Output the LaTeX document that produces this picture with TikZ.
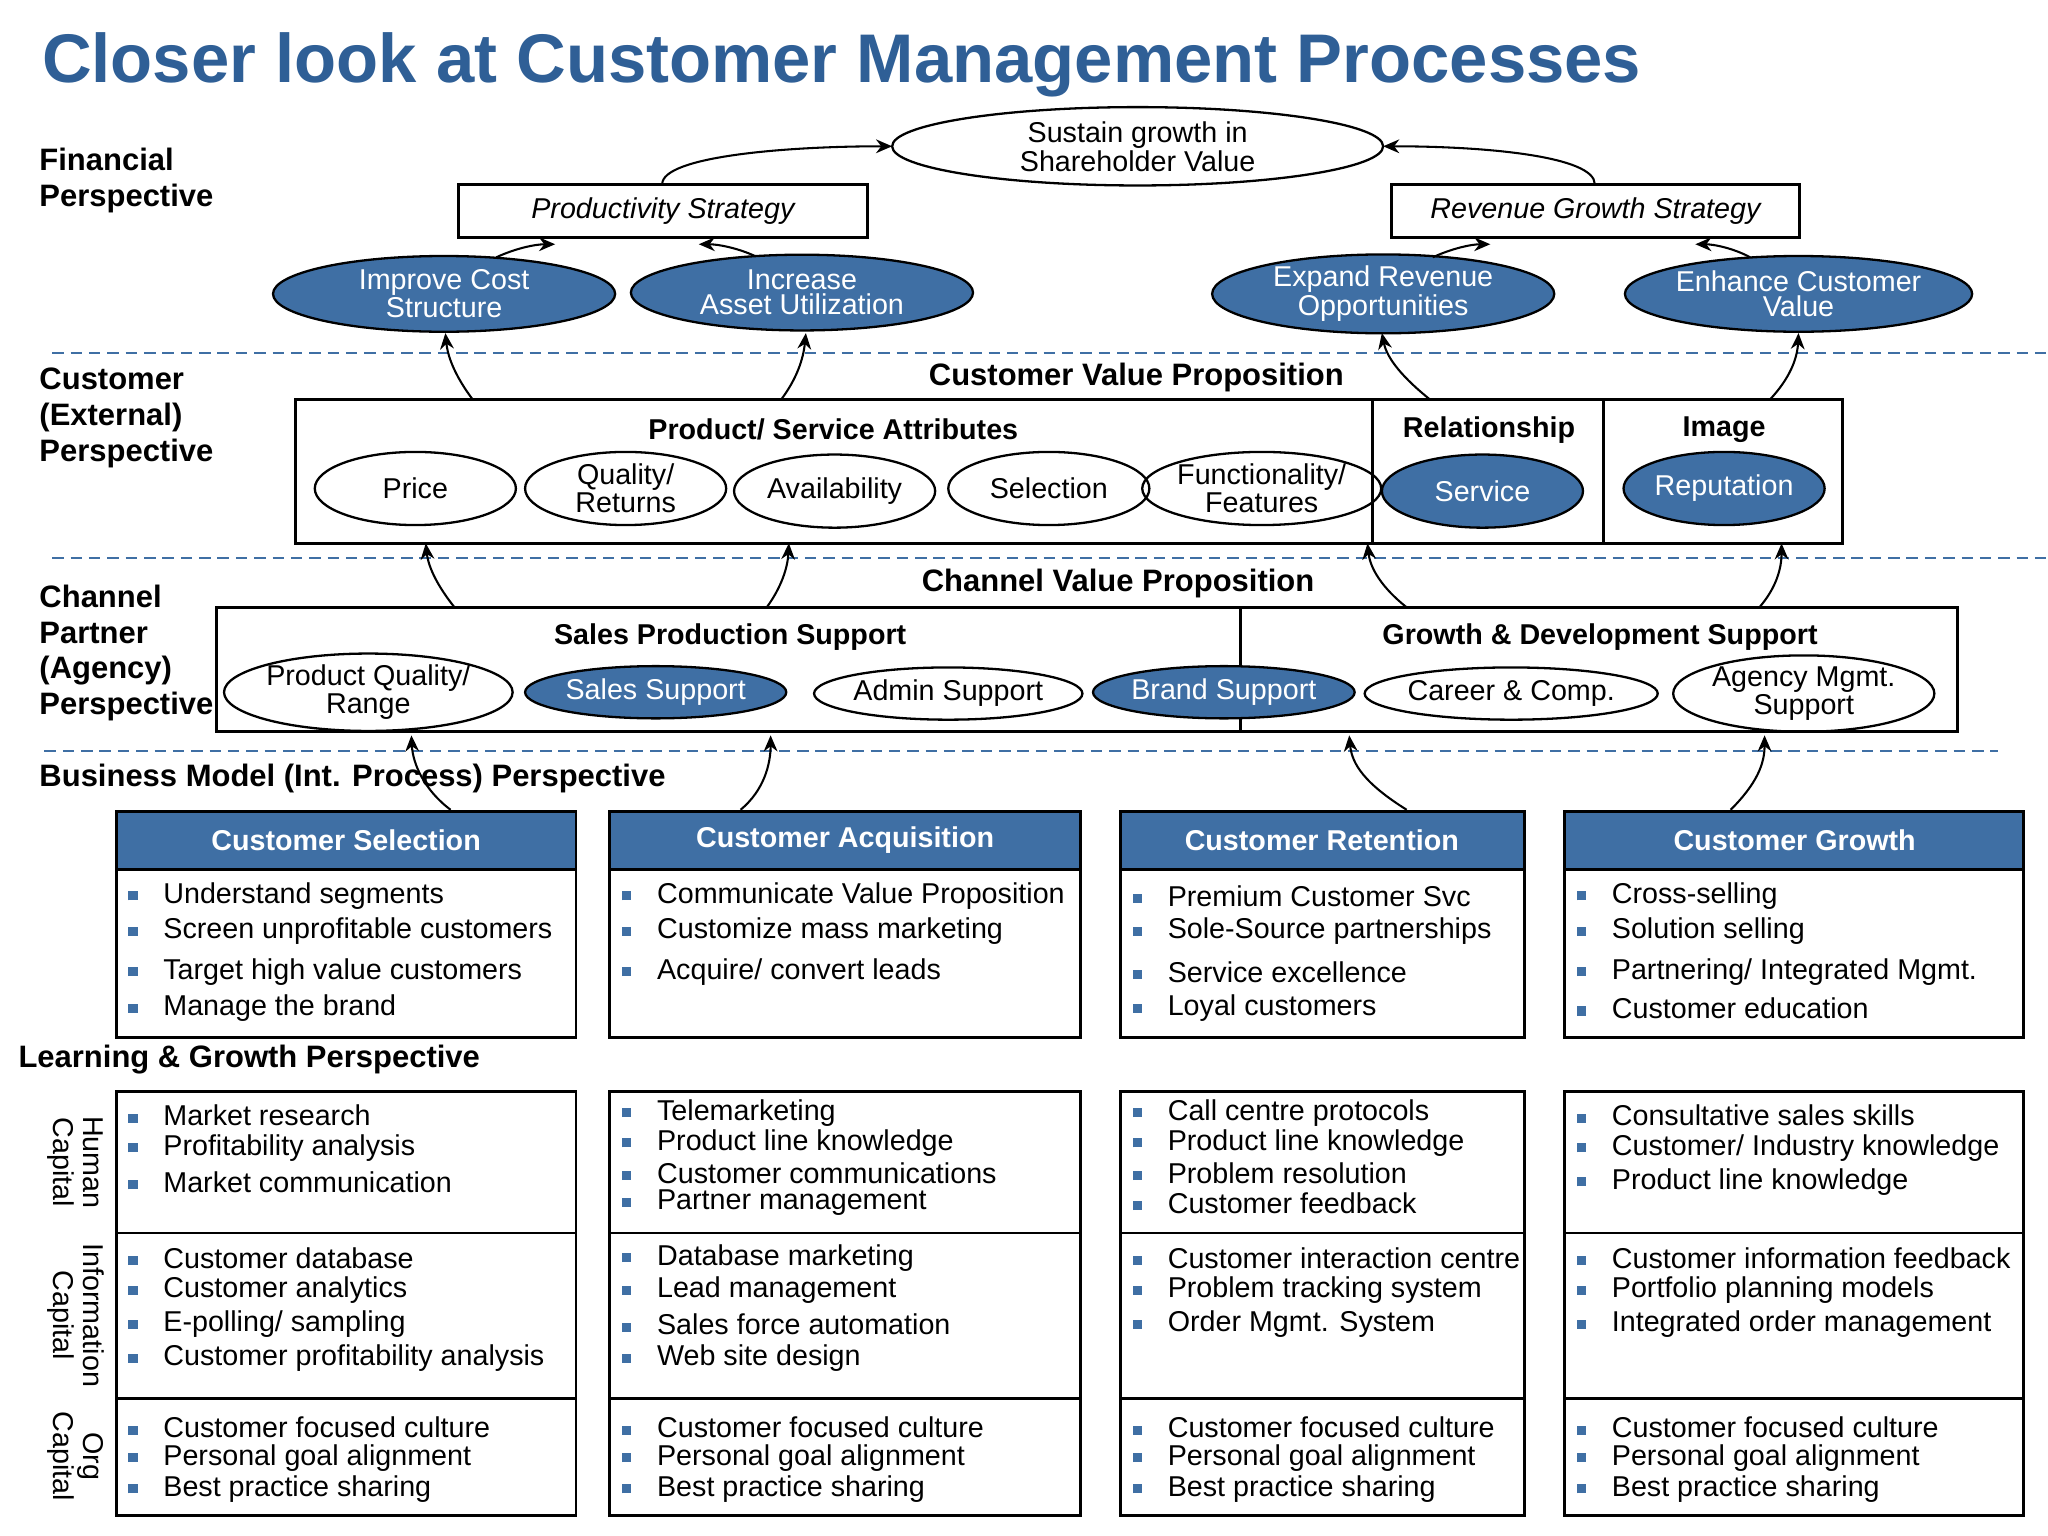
\documentclass[tikz,border=0pt]{standalone}
\usepackage{fontspec}
\setmainfont{Liberation Sans}
\usetikzlibrary{shapes.geometric,arrows.meta}
\definecolor{cblue}{HTML}{3F6FA4}
\definecolor{tblue}{HTML}{2F5F96}
\newcommand\mybul{\textcolor{cblue}{\rule[0.2ex]{0.6ex}{0.6ex}}\hspace{0.9em}}
\tikzset{
 box/.style={draw=black,line width=1.3pt},
 el/.style={ellipse,draw=black,line width=1pt,inner sep=0pt,align=center,font=\fontsize{12.5}{11}\selectfont},
 bel/.style={el,fill=cblue,text=white},
 lbl/.style={anchor=west,align=left,font=\fontsize{13.5}{15.5}\selectfont\bfseries},
 hd/.style={font=\fontsize{12.5}{14}\selectfont\bfseries},
 itm/.style={anchor=west,inner sep=0pt,font=\fontsize{12.5}{14}\selectfont},
 ar/.style={-{Stealth[length=7pt,width=6pt]},line width=0.9pt},
 dsh/.style={cblue,line width=0.8pt,dash pattern=on 5pt off 3pt}
}
\begin{document}
\begin{tikzpicture}[x=0.02cm,y=-0.02cm]
\useasboundingbox (0,0) rectangle (1568,1176);
\node[anchor=west,text=tblue,font=\fontsize{30}{32}\selectfont\bfseries] (title) at (26,50) {Closer look at Customer Management Processes};
% Financial
\node[lbl] (fp) at (24,138) {Financial\\Perspective};
\node[el,minimum width=7.52cm,minimum height=1.2cm] (sg) at (871,112) {Sustain growth in\\Shareholder Value};
\node[box,minimum width=6.26cm,minimum height=0.82cm,font=\fontsize{12.5}{14}\selectfont\itshape] (ps) at (507.5,161.5) {Productivity Strategy};
\node[box,minimum width=6.26cm,minimum height=0.82cm,font=\fontsize{12.5}{14}\selectfont\itshape] (rs) at (1221.5,161.5) {Revenue Growth Strategy};
\node[bel,minimum width=5.24cm,minimum height=1.16cm] (ic) at (340,225) {Improve Cost\\Structure};
\node[bel,minimum width=5.24cm,minimum height=1.16cm] (ia) at (614,224) {Increase\\Asset Utilization};
\node[bel,minimum width=5.24cm,minimum height=1.16cm] (er) at (1059,225) {Expand Revenue\\Opportunities};
\node[bel,minimum width=5.24cm,minimum height=1.16cm] (ec) at (1377,225) {Enhance Customer\\Value};
\draw[ar] (507,141) .. controls (507,120) and (600,112) .. (683,112);
\draw[ar] (1221,141) .. controls (1221,120) and (1140,112) .. (1059,112);
\draw[ar] (380,197) .. controls (395,190) and (410,187) .. (425,187);
\draw[ar] (578,196) .. controls (565,190) and (550,187) .. (535,187);
\draw[ar] (1097,197) .. controls (1112,190) and (1127,187) .. (1141,187);
\draw[ar] (1340,197) .. controls (1327,190) and (1312,187) .. (1298,187);
\draw[dsh] (40,270) -- (1568,270);
\draw[dsh] (40,427) -- (1568,427);
\draw[dsh] (34,575) -- (1530,575);
% Customer
\node[lbl] (cp) at (24,320) {Customer\\(External)\\Perspective};
\node[font=\fontsize{13.5}{15}\selectfont\bfseries] (cvp) at (870,289) {Customer Value Proposition};
\draw[box] (226,306) rectangle (1411,416);
\draw[box] (1051,306) -- (1051,416) (1228,306) -- (1228,416);
\node[hd] (psa) at (638,329) {Product/ Service Attributes};
\node[hd] (rel) at (1140,329) {Relationship};
\node[hd] (img) at (1320,329) {Image};
\node[el,minimum width=3.08cm,minimum height=1.12cm] (pr) at (318,374) {Price};
\node[el,minimum width=3.08cm,minimum height=1.12cm] (qr) at (479,374) {Quality/\\Returns};
\node[el,minimum width=3.08cm,minimum height=1.12cm] (av) at (639,376) {Availability};
\node[el,minimum width=3.08cm,minimum height=1.12cm] (se) at (803,374) {Selection};
\node[el,minimum width=3.08cm,minimum height=1.12cm] (fu) at (966,374) {Functionality/\\Features};
\node[bel,minimum width=3.08cm,minimum height=1.12cm] (sv) at (1135,376) {Service};
\node[bel,minimum width=3.08cm,minimum height=1.12cm] (rp) at (1320,374) {Reputation};
\draw[ar] (362,306) .. controls (350,290) and (343,275) .. (341,255);
\draw[ar] (598,306) .. controls (610,290) and (615,275) .. (617,255);
\draw[ar] (1095,306) .. controls (1075,290) and (1062,275) .. (1058,255);
\draw[ar] (1355,306) .. controls (1370,290) and (1376,275) .. (1377,255);
% Channel
\node[lbl] (chp) at (24,500) {Channel\\Partner\\(Agency)\\Perspective};
\node[font=\fontsize{13.5}{15}\selectfont\bfseries] (chvp) at (856,447) {Channel Value Proposition};
\draw[box] (166,465) rectangle (1499,560);
\draw[box] (950,465) -- (950,560);
\node[hd] (sps) at (559,488) {Sales Production Support};
\node[hd] (gds) at (1225,488) {Growth \& Development Support};
\tikzset{cel/.style={el,minimum width=4cm,minimum height=0.8cm,font=\fontsize{12.5}{9.5}\selectfont}}
\node[cel] (pq) at (282,530) {Product Quality/\\Range};
\node[cel,fill=cblue,text=white] (ss) at (502,530) {Sales Support};
\node[cel] (as) at (726,531) {Admin Support};
\node[cel,fill=cblue,text=white] (bs) at (937,530) {Brand Support};
\node[cel] (cc) at (1157,531) {Career \& Comp.};
\node[cel] (am) at (1381,531) {Agency Mgmt.\\Support};
\draw[ar] (348,465) .. controls (336,450) and (328,435) .. (326,416);
\draw[ar] (587,465) .. controls (598,450) and (603,435) .. (604,416);
\draw[ar] (1077,465) .. controls (1058,450) and (1049,435) .. (1047,416);
\draw[ar] (1347,465) .. controls (1360,450) and (1364,435) .. (1364,416);
% Business model
\node[lbl] (bm) at (24,596) {Business Model (Int. Process) Perspective};
\draw[ar] (345,620) .. controls (325,605) and (316,585) .. (315,563);
\draw[ar] (567,620) .. controls (585,605) and (590,585) .. (590,563);
\draw[ar] (1077,620) .. controls (1045,600) and (1035,585) .. (1033,563);
\draw[ar] (1325,620) .. controls (1345,600) and (1351,585) .. (1351,563);
\fill[cblue] (89,621) rectangle (441,666);
\fill[cblue] (467,621) rectangle (827,666);
\fill[cblue] (858,621) rectangle (1167,666);
\fill[cblue] (1198,621) rectangle (1549,666);
\foreach \xa/\xb in {89/441,467/827,858/1167,1198/1549}{
 \draw[box] (\xa,621) rectangle (\xb,794);
 \draw[box] (\xa,666) -- (\xb,666);
 \draw[box] (\xa,836) rectangle (\xb,1160);
 \draw[box] (\xa,944) -- (\xb,944) (\xa,1071) -- (\xb,1071);
}
\node[text=white,font=\fontsize{12.5}{14}\selectfont\bfseries] (ph1) at (265,643) {Customer Selection};
\node[text=white,font=\fontsize{12.5}{14}\selectfont\bfseries] (ph2) at (647,643) {Customer Acquisition};
\node[text=white,font=\fontsize{12.5}{14}\selectfont\bfseries] (ph3) at (1012,643) {Customer Retention};
\node[text=white,font=\fontsize{12.5}{14}\selectfont\bfseries] (ph4) at (1374,643) {Customer Growth};
\foreach \yy/\txt in {686/Understand segments,713/Screen unprofitable customers,744/Target high value customers,772/Manage the brand} \node[itm] at (98,\yy) {\mybul\txt};
\foreach \yy/\txt in {686/Communicate Value Proposition,713/Customize mass marketing,744/{Acquire/ convert leads}} \node[itm] at (476,\yy) {\mybul\txt};
\foreach \yy/\txt in {686/Premium Customer Svc,713/Sole-Source partnerships,744/Service excellence,772/Loyal customers} \node[itm] at (867,\yy) {\mybul\txt};
\foreach \yy/\txt in {686/Cross-selling,713/Solution selling,744/{Partnering/ Integrated Mgmt.},772/Customer education} \node[itm] at (1207,\yy) {\mybul\txt};
% Learning
\node[lbl] (lg) at (8,811) {Learning \& Growth Perspective};
\node[rotate=-90,align=center,font=\fontsize{12.5}{13}\selectfont] (hc) at (58,890) {Human\\Capital};
\node[rotate=-90,align=center,font=\fontsize{12.5}{13}\selectfont] (inc) at (58,1007) {Information\\Capital};
\node[rotate=-90,align=center,font=\fontsize{12.5}{13}\selectfont] (oc) at (58,1115) {Org\\Capital};
\foreach \yy/\txt in {854/Market research,879/Profitability analysis,905/Market communication} \node[itm] at (98,\yy) {\mybul\txt};
\foreach \yy/\txt in {852/Telemarketing,875/Product line knowledge,898/Customer communications,921/Partner management} \node[itm] at (476,\yy) {\mybul\txt};
\foreach \yy/\txt in {852/Call centre protocols,875/Product line knowledge,898/Problem resolution,921/Customer feedback} \node[itm] at (867,\yy) {\mybul\txt};
\foreach \yy/\txt in {854/Consultative sales skills,879/{Customer/ Industry knowledge},905/Product line knowledge} \node[itm] at (1207,\yy) {\mybul\txt};
\foreach \yy/\txt in {963/Customer database,988/Customer analytics,1014/{E-polling/ sampling},1040/Customer profitability analysis} \node[itm] at (98,\yy) {\mybul\txt};
\foreach \yy/\txt in {963/Database marketing,988/Lead management,1014/Sales force automation,1040/Web site design} \node[itm] at (476,\yy) {\mybul\txt};
\foreach \yy/\txt in {963/Customer interaction centre,988/Problem tracking system,1014/Order Mgmt. System} \node[itm] at (867,\yy) {\mybul\txt};
\foreach \yy/\txt in {963/Customer information feedback,988/Portfolio planning models,1014/Integrated order management} \node[itm] at (1207,\yy) {\mybul\txt};
\foreach \xx in {98,476,867,1207}{
 \node[itm] at (\xx,1093) {\mybul Customer focused culture};
 \node[itm] at (\xx,1116) {\mybul Personal goal alignment};
 \node[itm] at (\xx,1140) {\mybul Best practice sharing};
}
\end{tikzpicture}
\end{document}
